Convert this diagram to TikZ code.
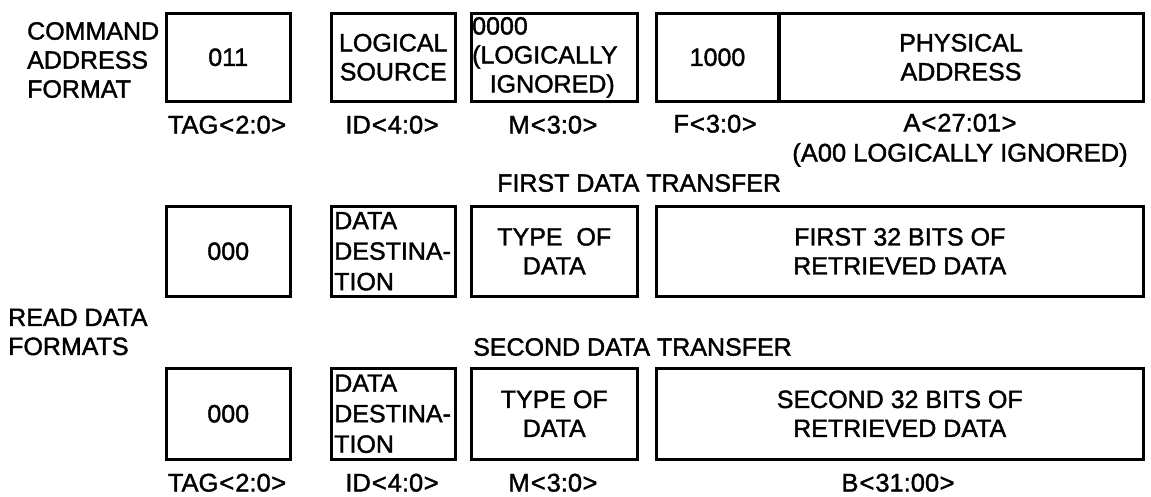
\documentclass[tikz,border=0pt]{standalone}
\usepackage{fontspec}
\setmainfont{Liberation Sans}[FakeBold=1.5]
\newcommand{\la}{\kern1pt<\kern1pt}
\newcommand{\ra}{\kern0.5pt>}
\begin{document}
\begin{tikzpicture}[x=1pt,y=-1pt,
  fld/.style={draw, line width=3.5pt, anchor=north west, inner sep=0pt,
    font=\fontsize{25}{29}\selectfont, align=center},
  txt/.style={inner sep=0pt, font=\fontsize{25}{29}\selectfont},
  lbl/.style={inner sep=0pt, anchor=base, font=\fontsize{25.5}{29}\selectfont},
  ttl/.style={inner sep=0pt, anchor=west, align=left,
    font=\fontsize{25}{29}\selectfont}]
\useasboundingbox (0,0) rectangle (1151,496);
% titles
\node[ttl] (cmdttl) at (27,60) {COMMAND\\ADDRESS\\FORMAT};
\node[ttl] (readttl) at (8,332) {READ DATA\\FORMATS};
% row 1
\node[fld, minimum width=124pt, minimum height=88pt] (r1a) at (164.5,11.5) {011};
\node[fld, minimum width=124pt, minimum height=88pt] (r1b) at (329.5,11.5) {LOGICAL\\SOURCE};
\node[fld, minimum width=166pt, minimum height=88pt] (r1c) at (469.5,11.5) {};
\node[txt, anchor=north west] (r1ct) at (472,14)
  {\begin{tabular}{@{}p{160pt}@{}}0000\\(LOGICALLY\\\centering IGNORED)\end{tabular}};
\node[fld, minimum width=122.5pt, minimum height=88pt] (r1f) at (654.5,11.5) {1000};
\node[fld, minimum width=364.5pt, minimum height=88pt] (r1p) at (777,11.5) {PHYSICAL\\ADDRESS};
% row 1 labels
\node[lbl] (l1a) at (227,133.5) {TAG\la2:0\ra};
\node[lbl] (l1b) at (392,133.5) {ID\la4:0\ra};
\node[lbl] (l1c) at (553,133.5) {M\la3:0\ra};
\node[lbl] (l1f) at (715,132.5) {F\la3:0\ra};
\node[lbl] (l1p) at (960,131.5) {A\la27:01\ra};
\node[lbl] (l1q) at (960,161.5) {(A00 LOGICALLY IGNORED)};
% first data transfer
\node[txt, anchor=west] (fdt) at (497,183) {FIRST DATA TRANSFER};
\node[fld, minimum width=124pt, minimum height=90pt] (r2a) at (164.5,204.5) {000};
\node[fld, minimum width=124pt, minimum height=90pt, text width=118pt, align=left,
  font=\fontsize{25}{30.5}\selectfont] (r2b) at (329.5,204.5) {DATA\\DESTINA-\\TION};
\node[fld, minimum width=166pt, minimum height=90pt] (r2c) at (469.5,204.5) {TYPE\ \ OF\\DATA};
\node[fld, minimum width=487pt, minimum height=90pt] (r2d) at (654.5,204.5) {FIRST 32 BITS OF\\RETRIEVED DATA};
% second data transfer
\node[txt, anchor=west] (sdt) at (473,347) {SECOND DATA TRANSFER};
\node[fld, minimum width=124pt, minimum height=91pt] (r3a) at (164.5,366.5) {000};
\node[fld, minimum width=124pt, minimum height=91pt, text width=118pt, align=left,
  font=\fontsize{25}{30.5}\selectfont] (r3b) at (329.5,366.5) {DATA\\DESTINA-\\TION};
\node[fld, minimum width=166pt, minimum height=91pt] (r3c) at (469.5,366.5) {TYPE OF\\DATA};
\node[fld, minimum width=487pt, minimum height=91pt] (r3d) at (654.5,366.5) {SECOND 32 BITS OF\\RETRIEVED DATA};
% row 3 labels
\node[lbl] (l3a) at (227,491.5) {TAG\la2:0\ra};
\node[lbl] (l3b) at (392,491.5) {ID\la4:0\ra};
\node[lbl] (l3c) at (553,491.5) {M\la3:0\ra};
\node[lbl] (l3d) at (898,491.5) {B\la31:00\ra};
\end{tikzpicture}
\end{document}
